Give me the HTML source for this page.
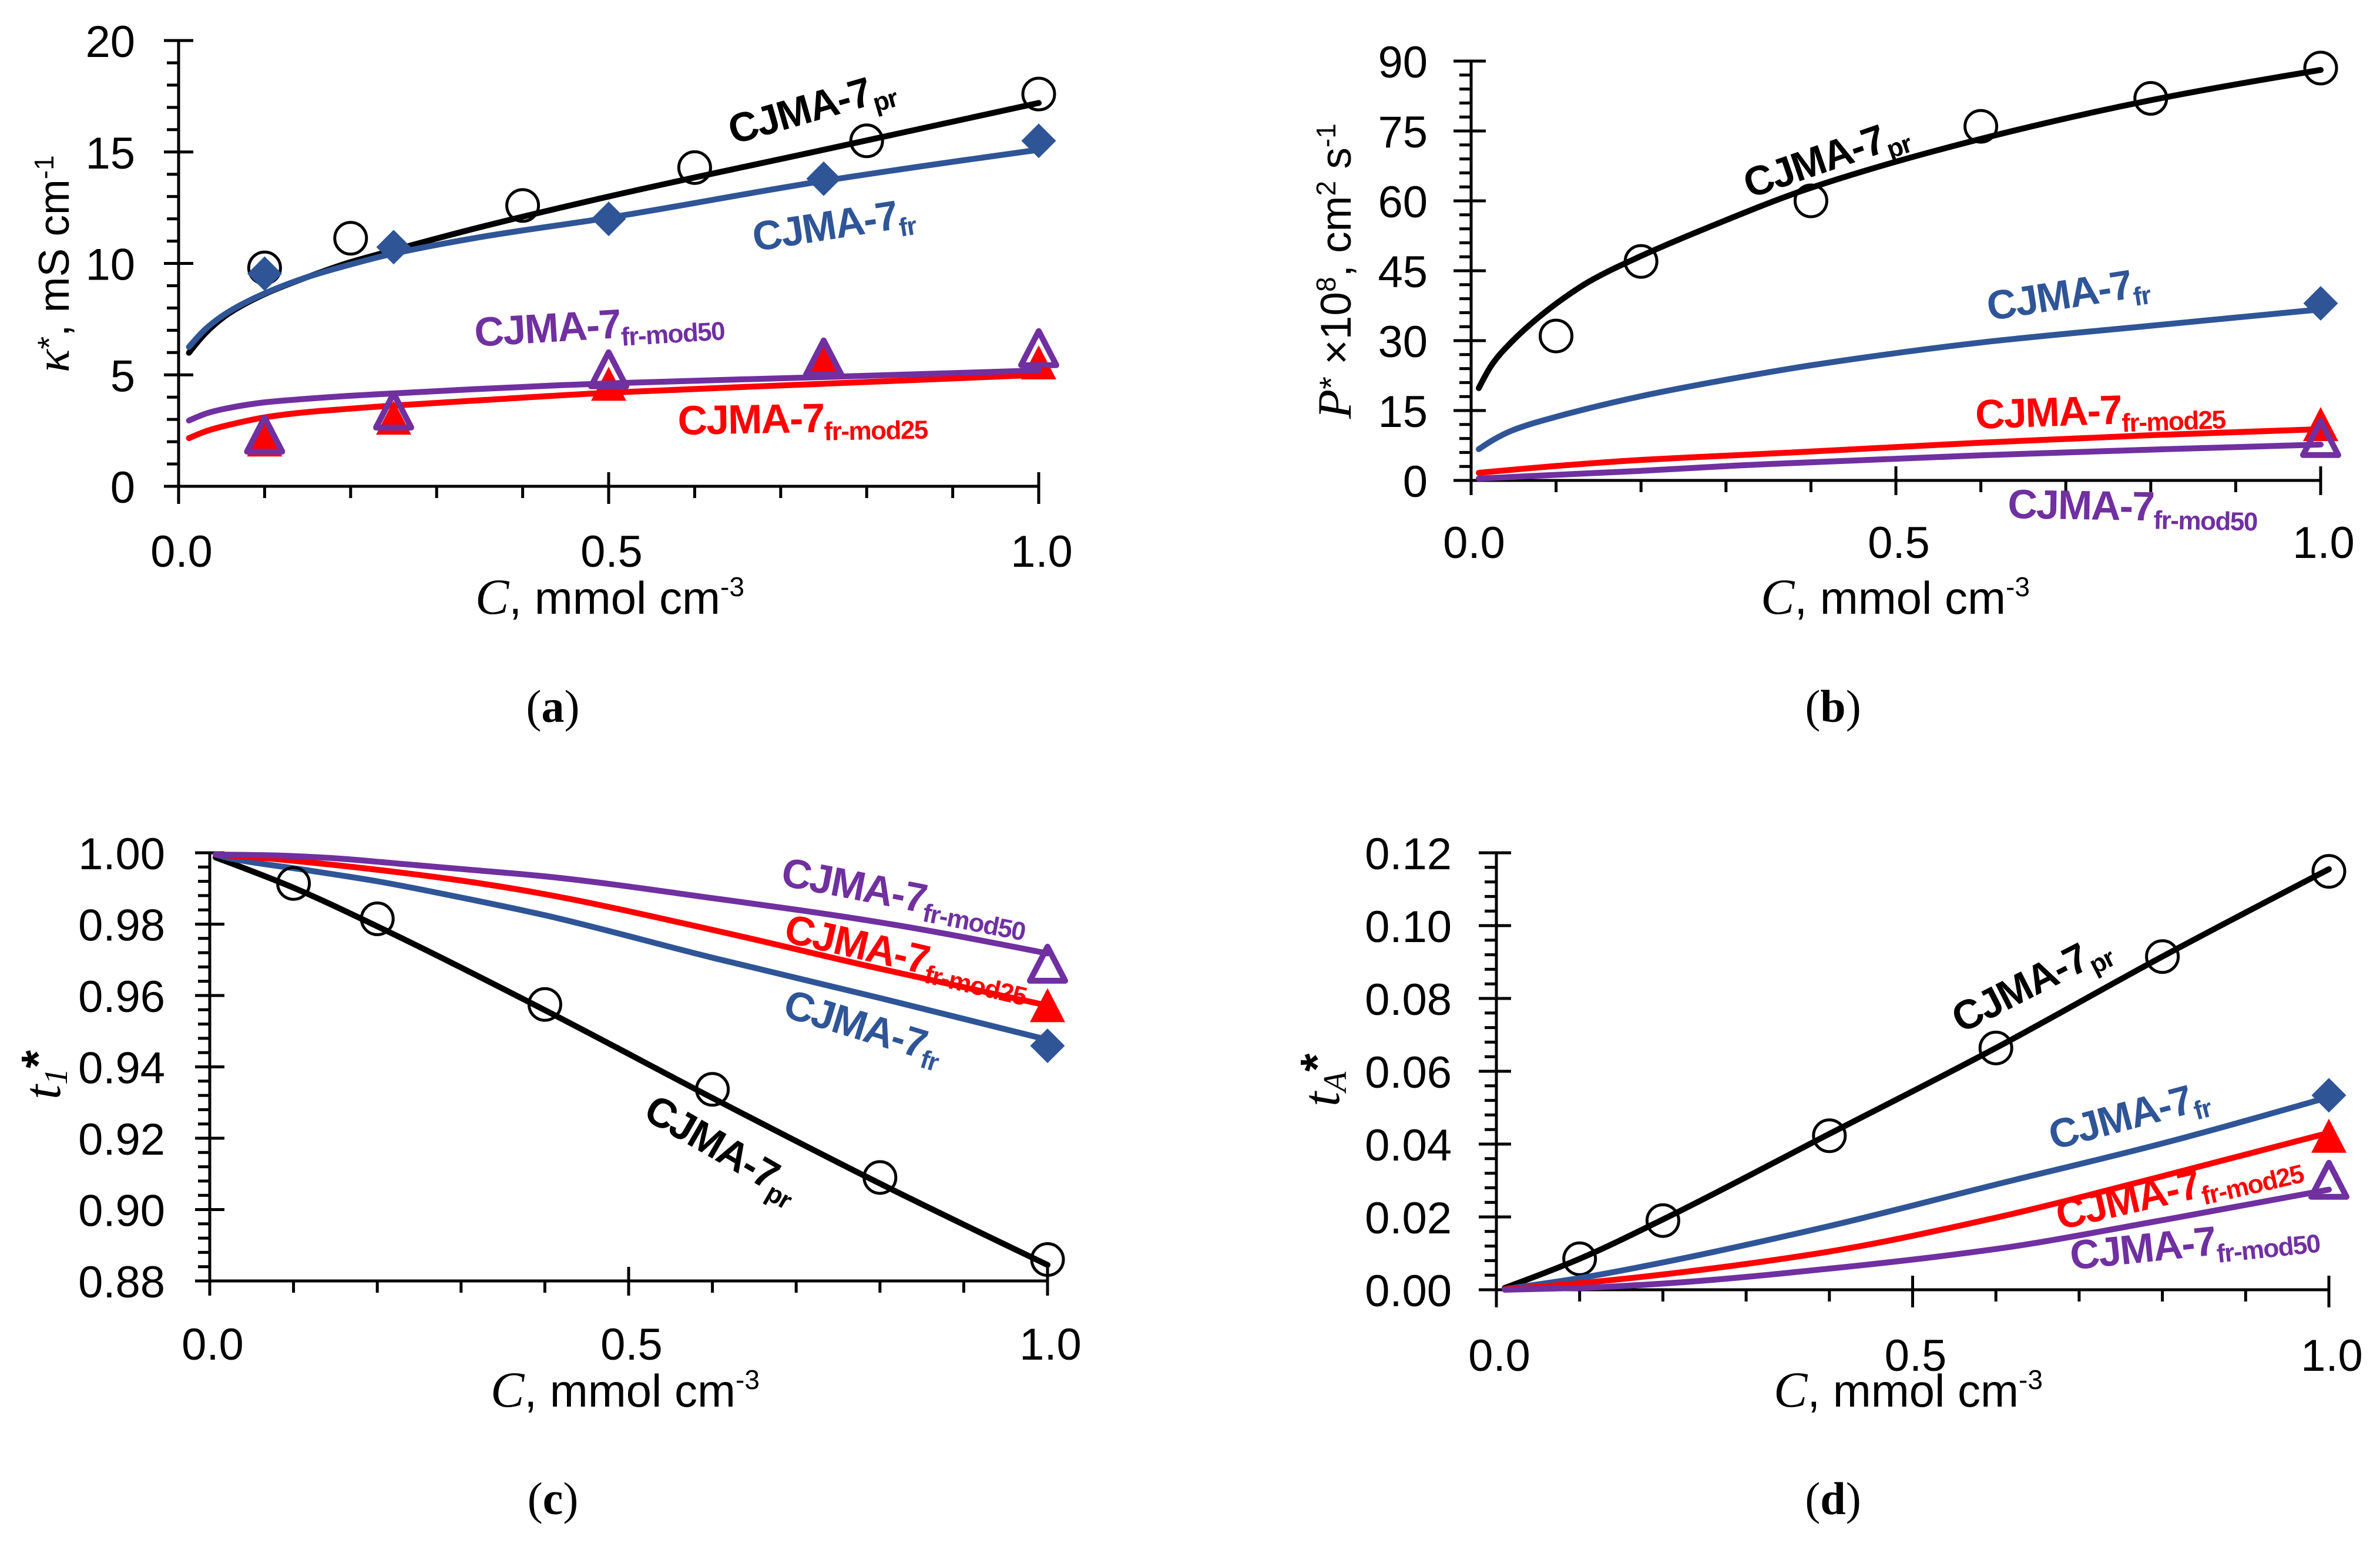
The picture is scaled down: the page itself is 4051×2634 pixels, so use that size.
<!DOCTYPE html>
<html lang="en">
<head>
<meta charset="utf-8">
<title>CJMA-7 membrane properties versus concentration</title>
<style>
html,body{margin:0;padding:0;background:#fff}
svg{display:block}
text{font-family:"Liberation Sans",sans-serif}
.ser{font-family:"Liberation Serif",serif}
.lab{font-weight:700;font-size:70px;letter-spacing:-2px}
.sub{font-size:44px;letter-spacing:-1.5px}
</style>
</head>
<body>
<svg id="figure" xmlns="http://www.w3.org/2000/svg" width="4051" height="2634" viewBox="0 0 4051 2634">
<rect width="4051" height="2634" fill="#fff"/>
<g id="pa"></g>
<g id="pb"></g>
<g id="pc"></g>
<g id="pd"></g>

<!-- panel a text -->
<text transform="translate(117 634) rotate(-90)" font-size="73"><tspan class="ser" font-style="italic" font-size="82">κ</tspan><tspan dy="-14" font-size="56">*</tspan><tspan dy="14">, mS cm</tspan><tspan dy="-26" font-size="46">-1</tspan></text>
<text x="809" y="1045" font-size="78"><tspan class="ser" font-style="italic" font-size="86">C</tspan>, mmol cm<tspan dy="-30" font-size="46">-3</tspan></text>
<text class="ser" x="941" y="1229" font-size="78" text-anchor="middle">(<tspan font-weight="700">a</tspan>)</text>
<text class="lab" fill="#000" transform="translate(1248 246) rotate(-16)">CJMA-7<tspan class="sub" dy="14">pr</tspan></text>
<text class="lab" fill="#2F5597" transform="translate(1285 428) rotate(-9)">CJMA-7<tspan class="sub" dy="14">fr</tspan></text>
<text class="lab" fill="#7030A0" transform="translate(809 590) rotate(-3.5)">CJMA-7<tspan class="sub" dy="14">fr-mod50</tspan></text>
<text class="lab" fill="#FF0000" transform="translate(1154 740) rotate(-1)">CJMA-7<tspan class="sub" dy="14">fr-mod25</tspan></text>

<!-- panel b text -->
<text transform="translate(2299 713) rotate(-90)" font-size="73"><tspan class="ser" font-style="italic" font-size="82">P</tspan><tspan dy="-14" font-size="56">*</tspan><tspan dy="14"> ×10</tspan><tspan dy="-26" font-size="46">8</tspan><tspan dy="26">, cm</tspan><tspan dy="-26" font-size="46">2</tspan><tspan dy="26"> s</tspan><tspan dy="-26" font-size="46">-1</tspan></text>
<text x="2997" y="1045" font-size="78"><tspan class="ser" font-style="italic" font-size="86">C</tspan>, mmol cm<tspan dy="-30" font-size="46">-3</tspan></text>
<text class="ser" x="3120" y="1229" font-size="78" text-anchor="middle">(<tspan font-weight="700">b</tspan>)</text>
<text class="lab" fill="#000" transform="translate(2978 338) rotate(-19)">CJMA-7<tspan class="sub" dy="14">pr</tspan></text>
<text class="lab" fill="#2F5597" transform="translate(3386 546) rotate(-9)">CJMA-7<tspan class="sub" dy="14">fr</tspan></text>
<text class="lab" fill="#FF0000" transform="translate(3363 730) rotate(-2)">CJMA-7<tspan class="sub" dy="14">fr-mod25</tspan></text>
<text class="lab" fill="#7030A0" transform="translate(3417 882) rotate(1)">CJMA-7<tspan class="sub" dy="14">fr-mod50</tspan></text>

<!-- panel c text -->
<text transform="translate(102 1872) rotate(-90)" font-size="74"><tspan class="ser" font-style="italic" font-size="90">t</tspan><tspan class="ser" font-style="italic" dy="12" font-size="56">1</tspan><tspan dy="-22" font-weight="700" font-size="80">*</tspan></text>
<text x="835" y="2395" font-size="78"><tspan class="ser" font-style="italic" font-size="86">C</tspan>, mmol cm<tspan dy="-30" font-size="46">-3</tspan></text>
<text class="ser" x="941" y="2578" font-size="78" text-anchor="middle">(<tspan font-weight="700">c</tspan>)</text>
<text class="lab" fill="#7030A0" transform="translate(1327 1507) rotate(11)">CJMA-7<tspan class="sub" dy="14">fr-mod50</tspan></text>
<text class="lab" fill="#FF0000" transform="translate(1332 1603) rotate(13)">CJMA-7<tspan class="sub" dy="14">fr-mod25</tspan></text>
<text class="lab" fill="#2F5597" transform="translate(1330 1730) rotate(17)">CJMA-7<tspan class="sub" dy="14">fr</tspan></text>
<text class="lab" fill="#000" transform="translate(1092 1903) rotate(30)">CJMA-7<tspan class="sub" dy="14">pr</tspan></text>

<!-- panel d text -->
<text transform="translate(2279 1884) rotate(-90)" font-size="74"><tspan class="ser" font-style="italic" font-size="90">t</tspan><tspan class="ser" font-style="italic" dy="12" font-size="56">A</tspan><tspan dy="-22" font-weight="700" font-size="80">*</tspan></text>
<text x="3019" y="2395" font-size="78"><tspan class="ser" font-style="italic" font-size="86">C</tspan>, mmol cm<tspan dy="-30" font-size="46">-3</tspan></text>
<text class="ser" x="3120" y="2578" font-size="78" text-anchor="middle">(<tspan font-weight="700">d</tspan>)</text>
<text class="lab" fill="#000" transform="translate(3338 1760) rotate(-27)">CJMA-7<tspan class="sub" dy="14">pr</tspan></text>
<text class="lab" fill="#2F5597" transform="translate(3495 1958) rotate(-15)">CJMA-7<tspan class="sub" dy="14">fr</tspan></text>
<text class="lab" fill="#FF0000" transform="translate(3506 2094) rotate(-13)">CJMA-7<tspan class="sub" dy="14">fr-mod25</tspan></text>
<text class="lab" fill="#7030A0" transform="translate(3526 2162) rotate(-6)">CJMA-7<tspan class="sub" dy="14">fr-mod50</tspan></text>
</svg>

<script>
/* shared x axis */
const xMinorValues = [0.1, 0.2, 0.3, 0.4, 0.6, 0.7, 0.8, 0.9];
const xMajorValues = [0, 0.5, 1];
const xTickLabels = ["0.0", "0.5", "1.0"];

/* panel a: conductivity */
const aYTicks = [0, 5, 10, 15, 20];
const aYLabels = ["0", "5", "10", "15", "20"];
const aLineC = [0.012, 0.034, 0.059, 0.101, 0.15, 0.195, 0.241, 0.346, 0.5, 0.75, 1];
const aPrLine = [5.99, 6.98, 7.77, 8.64, 9.39, 10.0, 10.5, 11.58, 13.0, 15.1, 17.2];
const aFrLine = [6.25, 7.15, 7.85, 8.67, 9.39, 9.9, 10.36, 11.15, 12.05, 13.7, 15.1];
const aMod50Line = [2.95, 3.29, 3.52, 3.77, 3.93, 4.05, 4.15, 4.36, 4.62, 4.9, 5.2];
const aMod25Line = [2.16, 2.5, 2.76, 3.1, 3.33, 3.47, 3.6, 3.85, 4.2, 4.6, 5.0];
const aPrC = [0.1, 0.2, 0.4, 0.6, 0.8, 1];
const aPrPts = [9.8, 11.13, 12.6, 14.3, 15.5, 17.6];
const aModC = [0.1, 0.25, 0.5, 0.75, 1];
const aFrPts = [9.54, 10.73, 12.0, 13.8, 15.5];
const aMod25Pts = [2.1, 3.08, 4.6, 5.6, 5.56];
const aMod50Pts = [2.32, 3.4, 5.25, 5.78, 6.2];

/* panel b: permeability */
const bYTicks = [0, 15, 30, 45, 60, 75, 90];
const bYLabels = ["0", "15", "30", "45", "60", "75", "90"];
const bPrC = [0.009, 0.025, 0.048, 0.071, 0.099, 0.14, 0.198, 0.279, 0.4, 0.6, 0.8, 1];
const bPrLine = [19.8, 25, 29.8, 33.7, 37.8, 42.8, 48, 54.3, 62.8, 73.3, 81.6, 88.1];
const bFrC = [0.009, 0.025, 0.048, 0.099, 0.198, 0.3, 0.4, 0.6, 0.8, 1];
const bFrLine = [6.7, 8.6, 10.7, 13.6, 18.0, 21.6, 24.7, 29.6, 33.2, 36.7];
const bModC = [0.009, 0.1, 0.2, 0.313, 0.4, 0.6, 0.8, 1];
const bMod25Line = [1.64, 3.1, 4.4, 5.42, 6.2, 8.1, 9.7, 11];
const bMod50Line = [0.4, 1.2, 2.06, 3.2, 3.9, 5.4, 6.6, 7.7];
const bPtC = [0.1, 0.2, 0.4, 0.6, 0.8, 1];
const bPrPts = [31, 47, 60, 76, 82, 88.5];
const bEndC = [1];
const bFrPts = [38];
const bMod25Pts = [12.1];
const bMod50Pts = [9.1];

/* panel c: counter-ion transport number */
const cYTicks = [0.88, 0.90, 0.92, 0.94, 0.96, 0.98, 1.00];
const cYLabels = ["0.88", "0.90", "0.92", "0.94", "0.96", "0.98", "1.00"];
const cPrC = [0.007, 0.1, 0.198, 0.4, 0.6, 0.8, 1];
const cPrLine = [0.9987, 0.9902, 0.9796, 0.9559, 0.9313, 0.9073, 0.8845];
const cFrC = [0.007, 0.023, 0.117, 0.198, 0.318, 0.4, 0.6, 0.8, 1];
const cFrLine = [0.9995, 0.9985, 0.9951, 0.9921, 0.9866, 0.9825, 0.9706, 0.9593, 0.9476];
const cModC = [0.007, 0.07, 0.14, 0.233, 0.318, 0.4, 0.6, 0.8, 1];
const cMod25Line = [0.9995, 0.9984, 0.9968, 0.9943, 0.9916, 0.9884, 0.9784, 0.9675, 0.9572];
const cMod50Line = [0.9995, 0.9993, 0.9986, 0.9968, 0.9951, 0.9934, 0.9873, 0.9805, 0.9718];
const cPtC = [0.1, 0.2, 0.4, 0.6, 0.8, 1];
const cPrPts = [0.9914, 0.9815, 0.9575, 0.9337, 0.909, 0.886];
const cEndC = [1];
const cFrPts = [0.9459];
const cMod25Pts = [0.9573];
const cMod50Pts = [0.9689];

/* panel d: co-ion transport number */
const dYTicks = [0, 0.02, 0.04, 0.06, 0.08, 0.10, 0.12];
const dYLabels = ["0.00", "0.02", "0.04", "0.06", "0.08", "0.10", "0.12"];
const dLineC = [0.01, 0.1, 0.2, 0.4, 0.6, 0.8, 1];
const dPrLine = [0.0005, 0.0085, 0.0193, 0.0428, 0.0664, 0.0915, 0.1155];
const dFrLine = [0.0002, 0.0032, 0.0075, 0.0175, 0.0289, 0.0402, 0.0529];
const dMod25Line = [0.0001, 0.0018, 0.0042, 0.0105, 0.0198, 0.0312, 0.0431];
const dMod50Line = [0, 0.0005, 0.0017, 0.0058, 0.0112, 0.0191, 0.0275];
const dPtC = [0.1, 0.2, 0.4, 0.6, 0.8, 1];
const dPrPts = [0.0085, 0.019, 0.0423, 0.0664, 0.0915, 0.1149];
const dEndC = [1];
const dFrPts = [0.0534];
const dMod25Pts = [0.0423];
const dMod50Pts = [0.0302];

const NS = "http://www.w3.org/2000/svg";
const BLACK = "#000", BLUE = "#2F5597", RED = "#FF0000", PURPLE = "#7030A0";

function mark(parent, tag, name, attrs) {
  const el = document.createElementNS(NS, tag);
  Object.keys(attrs).forEach(function (k) { el.setAttribute(k, attrs[k]); });
  
  
  parent.appendChild(el);
  return el;
}

function makeScales(box) {
  return {
    x: function (v) { return box.x0 + v * (box.x1 - box.x0); },
    y: function (v) { return box.yBot - (v - box.vMin) / (box.vMax - box.vMin) * (box.yBot - box.yTop); }
  };
}

function drawAxes(g, box, s, yTicks, yLabels, minorPerMajor) {
  const id = box.id;
  mark(g, 'line', id + '-y-axis', {x1: box.x0, x2: box.x0, y1: box.yTop, y2: box.yBot + box.tickDown, stroke: BLACK, 'stroke-width': 5});
  mark(g, 'line', id + '-x-axis', {x1: box.x0 - box.tickLeft, x2: box.x1 + 1, y1: box.yBot, y2: box.yBot, stroke: BLACK, 'stroke-width': 5});
  yTicks.forEach(function (v, i) {
    const y = s.y(v);
    mark(g, 'line', id + '-y-major-tick', {x1: box.x0 - box.tickLeft, x2: box.x0 + 25, y1: y, y2: y, stroke: BLACK, 'stroke-width': 5});
    const t = mark(g, 'text', id + '-y-tick-label', {x: box.yLabelRight, y: y + 28, 'font-size': 76, 'text-anchor': 'end'});
    t.textContent = yLabels[i];
    if (i < yTicks.length - 1) {
      const step = (yTicks[i + 1] - v) / (minorPerMajor + 1);
      for (let k = 1; k <= minorPerMajor; k++) {
        const ym = s.y(v + k * step);
        mark(g, 'line', id + '-y-minor-tick', {x1: box.x0 - 20, x2: box.x0, y1: ym, y2: ym, stroke: BLACK, 'stroke-width': 5});
      }
    }
  });
  xMinorValues.forEach(function (v) {
    const x = s.x(v);
    mark(g, 'line', id + '-x-minor-tick', {x1: x, x2: x, y1: box.yBot, y2: box.yBot + 20, stroke: BLACK, 'stroke-width': 5});
  });
  xMajorValues.forEach(function (v, i) {
    const x = s.x(v);
    if (v > 0) {
      mark(g, 'line', id + '-x-major-tick', {x1: x, x2: x, y1: box.yBot - 24, y2: box.yBot + box.tickDown, stroke: BLACK, 'stroke-width': 5});
    }
    const t = mark(g, 'text', id + '-x-tick-label', {x: x + 5, y: box.xLabelBase, 'font-size': 76, 'text-anchor': 'middle'});
    t.textContent = xTickLabels[i];
  });
}

/* smooth curve through the read points: monotone cubic tangents */
function drawCurve(g, name, s, cs, vs, color) {
  const px = cs.map(s.x), py = vs.map(s.y), n = px.length;
  const h = [], sec = [];
  for (let i = 0; i < n - 1; i++) {
    h.push(px[i + 1] - px[i]);
    sec.push((py[i + 1] - py[i]) / h[i]);
  }
  const m = new Array(n).fill(0);
  for (let i = 1; i < n - 1; i++) {
    if (sec[i - 1] * sec[i] > 0) {
      const w1 = 2 * h[i] + h[i - 1], w2 = h[i] + 2 * h[i - 1];
      m[i] = (w1 + w2) / (w1 / sec[i - 1] + w2 / sec[i]);
    }
  }
  m[0] = (3 * sec[0] - m[1]) / 2;
  m[n - 1] = (3 * sec[n - 2] - m[n - 2]) / 2;
  let d = 'M' + px[0].toFixed(1) + ' ' + py[0].toFixed(1);
  for (let i = 0; i < n - 1; i++) {
    d += 'C' + (px[i] + h[i] / 3).toFixed(1) + ' ' + (py[i] + m[i] * h[i] / 3).toFixed(1) + ' ' +
      (px[i + 1] - h[i] / 3).toFixed(1) + ' ' + (py[i + 1] - m[i + 1] * h[i] / 3).toFixed(1) + ' ' +
      px[i + 1].toFixed(1) + ' ' + py[i + 1].toFixed(1);
  }
  mark(g, 'path', name, {d: d, fill: 'none', stroke: color, 'stroke-width': 10, 'stroke-linecap': 'round', 'stroke-linejoin': 'round'});
}

function drawCircles(g, name, s, cs, vs) {
  cs.forEach(function (c, i) {
    mark(g, 'circle', name, {cx: s.x(c), cy: s.y(vs[i]), r: 27, fill: 'none', stroke: BLACK, 'stroke-width': 5});
  });
}
function drawDiamonds(g, name, s, cs, vs) {
  cs.forEach(function (c, i) {
    const x = s.x(c), y = s.y(vs[i]);
    mark(g, 'path', name, {d: 'M' + x + ' ' + (y - 29.5) + 'L' + (x + 29.5) + ' ' + y + 'L' + x + ' ' + (y + 29.5) + 'L' + (x - 29.5) + ' ' + y + 'Z', fill: BLUE});
  });
}
function drawTriangles(g, name, s, cs, vs, open) {
  cs.forEach(function (c, i) {
    const x = s.x(c), y = s.y(vs[i]);
    const d = 'M' + x + ' ' + (y - 29) + 'L' + (x + 30) + ' ' + (y + 29) + 'L' + (x - 30) + ' ' + (y + 29) + 'Z';
    if (open) {
      mark(g, 'path', name, {d: d, fill: 'none', stroke: PURPLE, 'stroke-width': 10, 'stroke-linejoin': 'round'});
    } else {
      mark(g, 'path', name, {d: d, fill: RED});
    }
  });
}

/* panel a */
(function () {
  const box = {id: 'a', x0: 304, x1: 1768, yTop: 69, yBot: 828, vMin: 0, vMax: 20, yLabelRight: 230, xLabelBase: 965, tickLeft: 25, tickDown: 30};
  const g = document.getElementById('pa'), s = makeScales(box);
  drawAxes(g, box, s, aYTicks, aYLabels, 4);
  drawCircles(g, 'a-pr-point', s, aPrC, aPrPts);
  drawCurve(g, 'a-pr-curve', s, aLineC, aPrLine, BLACK);
  drawDiamonds(g, 'a-fr-point', s, aModC, aFrPts);
  drawCurve(g, 'a-fr-curve', s, aLineC, aFrLine, BLUE);
  drawTriangles(g, 'a-mod25-point', s, aModC, aMod25Pts, false);
  drawCurve(g, 'a-mod25-curve', s, aLineC, aMod25Line, RED);
  drawTriangles(g, 'a-mod50-point', s, aModC, aMod50Pts, true);
  drawCurve(g, 'a-mod50-curve', s, aLineC, aMod50Line, PURPLE);
})();

/* panel b */
(function () {
  const box = {id: 'b', x0: 2504, x1: 3950, yTop: 104, yBot: 818, vMin: 0, vMax: 90, yLabelRight: 2430, xLabelBase: 950, tickLeft: 30, tickDown: 25};
  const g = document.getElementById('pb'), s = makeScales(box);
  drawAxes(g, box, s, bYTicks, bYLabels, 4);
  drawCircles(g, 'b-pr-point', s, bPtC, bPrPts);
  drawCurve(g, 'b-pr-curve', s, bPrC, bPrLine, BLACK);
  drawDiamonds(g, 'b-fr-point', s, bEndC, bFrPts);
  drawCurve(g, 'b-fr-curve', s, bFrC, bFrLine, BLUE);
  drawTriangles(g, 'b-mod25-point', s, bEndC, bMod25Pts, false);
  drawCurve(g, 'b-mod25-curve', s, bModC, bMod25Line, RED);
  drawTriangles(g, 'b-mod50-point', s, bEndC, bMod50Pts, true);
  drawCurve(g, 'b-mod50-curve', s, bModC, bMod50Line, PURPLE);
})();

/* panel c */
(function () {
  const box = {id: 'c', x0: 357, x1: 1783, yTop: 1452, yBot: 2181, vMin: 0.88, vMax: 1.0, yLabelRight: 281, xLabelBase: 2315, tickLeft: 25, tickDown: 25};
  const g = document.getElementById('pc'), s = makeScales(box);
  drawAxes(g, box, s, cYTicks, cYLabels, 4);
  drawCurve(g, 'c-pr-curve', s, cPrC, cPrLine, BLACK);
  drawDiamonds(g, 'c-fr-point', s, cEndC, cFrPts);
  drawCurve(g, 'c-fr-curve', s, cFrC, cFrLine, BLUE);
  drawTriangles(g, 'c-mod25-point', s, cEndC, cMod25Pts, false);
  drawCurve(g, 'c-mod25-curve', s, cModC, cMod25Line, RED);
  drawTriangles(g, 'c-mod50-point', s, cEndC, cMod50Pts, true);
  drawCurve(g, 'c-mod50-curve', s, cModC, cMod50Line, PURPLE);
  drawCircles(g, 'c-pr-point', s, cPtC, cPrPts);
})();

/* panel d */
(function () {
  const box = {id: 'd', x0: 2547, x1: 3964, yTop: 1452, yBot: 2196, vMin: 0, vMax: 0.12, yLabelRight: 2471, xLabelBase: 2334, tickLeft: 30, tickDown: 30};
  const g = document.getElementById('pd'), s = makeScales(box);
  drawAxes(g, box, s, dYTicks, dYLabels, 4);
  drawCircles(g, 'd-pr-point', s, dPtC, dPrPts);
  drawCurve(g, 'd-pr-curve', s, dLineC, dPrLine, BLACK);
  drawDiamonds(g, 'd-fr-point', s, dEndC, dFrPts);
  drawCurve(g, 'd-fr-curve', s, dLineC, dFrLine, BLUE);
  drawTriangles(g, 'd-mod25-point', s, dEndC, dMod25Pts, false);
  drawCurve(g, 'd-mod25-curve', s, dLineC, dMod25Line, RED);
  drawTriangles(g, 'd-mod50-point', s, dEndC, dMod50Pts, true);
  drawCurve(g, 'd-mod50-curve', s, dLineC, dMod50Line, PURPLE);
})();
</script>
</body>
</html>
